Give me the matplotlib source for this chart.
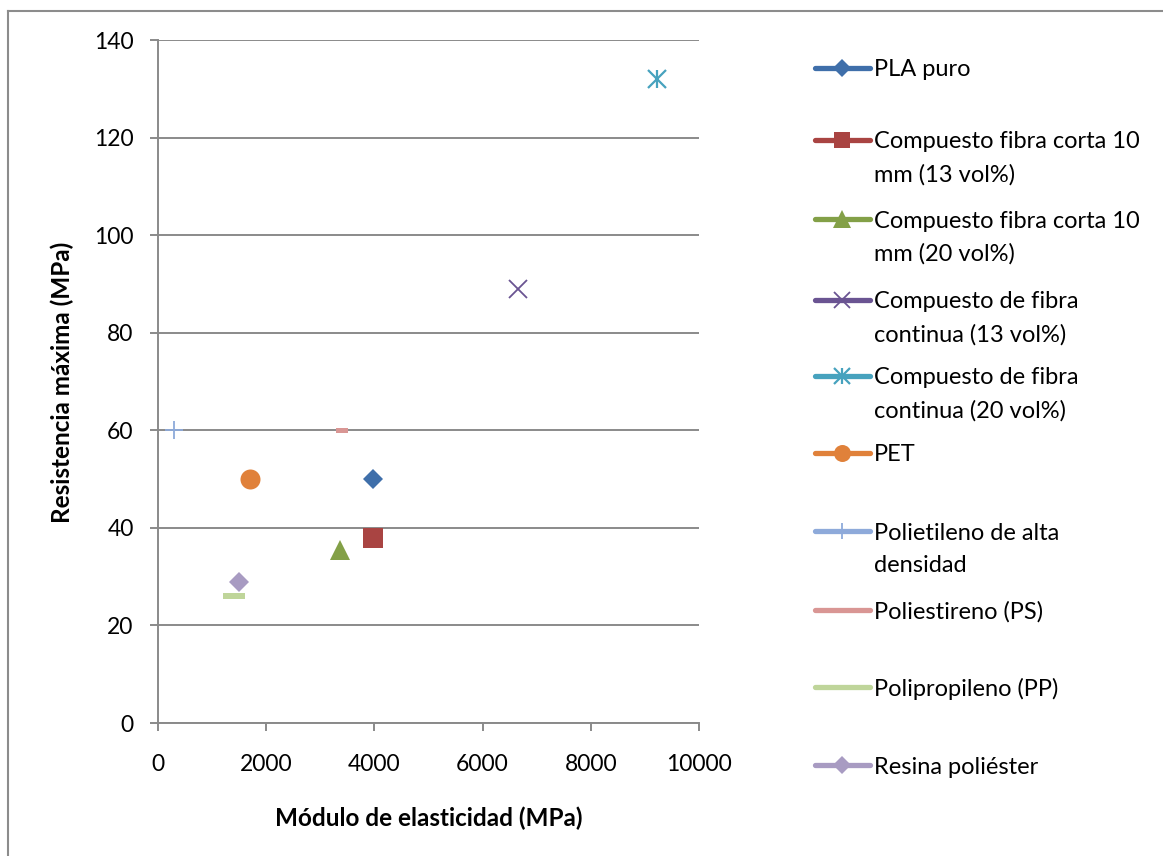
import matplotlib
matplotlib.use("Agg")
import matplotlib.pyplot as plt
from matplotlib.lines import Line2D
import numpy as np

plt.rcParams['font.family'] = ['Lato', 'DejaVu Sans']

# Series: name, modulus (MPa), max strength (MPa)
series_names = [
    "PLA puro",
    "Compuesto fibra corta 10\nmm (13 vol%)",
    "Compuesto fibra corta 10\nmm (20 vol%)",
    "Compuesto de fibra\ncontinua (13 vol%)",
    "Compuesto de fibra\ncontinua (20 vol%)",
    "PET",
    "Polietileno de alta\ndensidad",
    "Poliestireno (PS)",
    "Polipropileno (PP)",
    "Resina poliéster",
]
modulus = [3970, 3970, 3360, 6650, 9220, 1700, 300, 3400, 1400, 1500]
strength = [50, 38, 35.5, 89, 132, 50, 60, 60, 26, 29]

x_ticks = [0, 2000, 4000, 6000, 8000, 10000]
y_ticks = [0, 20, 40, 60, 80, 100, 120, 140]

colors = ["#3F6FAA", "#A94442", "#83A047", "#6A5492", "#47A2BE",
          "#E0813A", "#8EAADA", "#D99694", "#BFD59A", "#A89BC2"]

ps_bar = [(-1, -0.45), (1, -0.45), (1, 0.45), (-1, 0.45), (-1, -0.45)]
pp_bar = [(-1, -0.24), (1, -0.24), (1, 0.24), (-1, 0.24), (-1, -0.24)]

# marker styles per series: list of (marker, size, edge width, filled)
styles = [
    [("D", 10.2, 0, True)],
    [("s", 14.2, 0, True)],
    [("^", 14.5, 0, True)],
    [("x", 13.5, 1.3, False)],
    [("x", 13.5, 1.6, False), ("|", 13.5, 1.6, False)],
    [("o", 14.4, 0, True)],
    [("+", 13.0, 1.3, False)],
    [(ps_bar, 8.0, 0, True)],
    [(pp_bar, 15.5, 0, True)],
    [("D", 10.2, 0, True)],
]

W, H = 1163, 856
fig = plt.figure(figsize=(W / 100, H / 100), dpi=100)
ax = fig.add_axes([158 / W, 1 - 723 / H, (699 - 158) / W, (723 - 40) / H])

grid_c = "#8A8A8A"
for i, (xv, yv) in enumerate(zip(modulus, strength)):
    for m, ms, mew, filled in styles[i]:
        ax.plot([xv], [yv], linestyle="none", marker=m, markersize=ms,
                color=colors[i], markeredgewidth=(0 if filled else mew),
                zorder=3, clip_on=False)

ax.set_xlim(0, 10000)
ax.set_ylim(0, 140)
ax.set_xticks(x_ticks)
ax.set_yticks(y_ticks)
ax.set_xticklabels([str(v) for v in x_ticks])
ax.set_yticklabels([str(v) for v in y_ticks])
ax.yaxis.grid(True, color=grid_c, linewidth=1.4)
ax.set_axisbelow(True)
for s in ["top", "right"]:
    ax.spines[s].set_visible(False)
for s in ["left", "bottom"]:
    ax.spines[s].set_color(grid_c)
    ax.spines[s].set_linewidth(1.4)
ax.tick_params(axis="both", direction="out", length=5.5, width=1.4,
               color=grid_c, labelsize=16.5, labelcolor="black")
ax.tick_params(axis="y", pad=12)
ax.tick_params(axis="x", pad=17)

fig.text(429 / W, 1 - 818 / H, "Módulo de elasticidad (MPa)", ha="center",
         va="center", fontsize=17.5, fontweight="bold")
fig.text(62 / W, 1 - 382 / H, "Resistencia máxima (MPa)", ha="center",
         va="center", rotation=90, fontsize=17.5, fontweight="bold")

# Legend drawn in figure pixel coordinates
leg_y = [68, 140, 219, 300, 376, 453, 531, 610, 687, 765]
for i, name in enumerate(series_names):
    y = 1 - leg_y[i] / H
    fig.add_artist(Line2D([815 / W, 870 / W], [y, y], color=colors[i],
                          linewidth=3.8, solid_capstyle="round",
                          transform=fig.transFigure))
    for m, ms, mew, filled in styles[i]:
        if i in (7, 8):
            continue
        fig.add_artist(Line2D([842 / W], [y], linestyle="none", marker=m,
                              markersize=ms * 0.85, color=colors[i],
                              markeredgewidth=mew, transform=fig.transFigure))
    for j, line in enumerate(name.split("\n")):
        fig.text(874 / W, y - j * 32.5 / H, line, ha="left",
                 va="center_baseline", fontsize=17)

# Chart area border
fig.add_artist(Line2D([7.5 / W, 7.5 / W], [0, 1 - 11 / H], color="#8C8C8C",
                      linewidth=1.5, transform=fig.transFigure))
fig.add_artist(Line2D([7.5 / W, 1], [1 - 11 / H, 1 - 11 / H], color="#8C8C8C",
                      linewidth=1.5, transform=fig.transFigure))

fig.savefig("out.png", dpi=100, facecolor="white")
